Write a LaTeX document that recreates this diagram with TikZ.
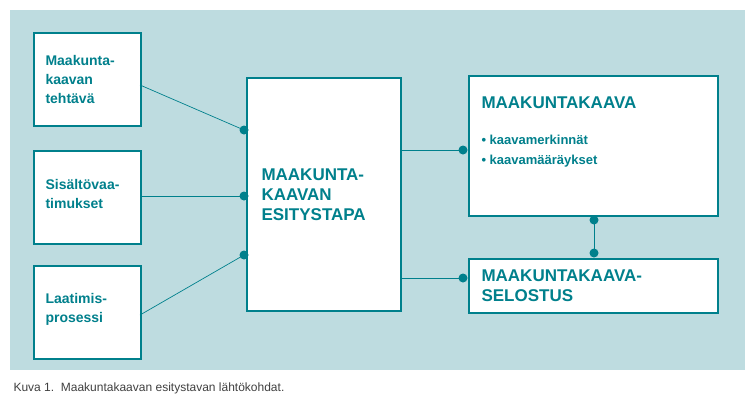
\documentclass[tikz,border=0pt]{standalone}
\usepackage{fontspec}
\setmainfont{Liberation Sans}
\definecolor{bg}{HTML}{BEDCE0}
\definecolor{teal}{HTML}{00808C}
\begin{document}
\begin{tikzpicture}[x=1pt,y=-1pt,
  box/.style={draw=teal,line width=1.8pt,fill=white,anchor=north west,inner sep=0},
  lab/.style={anchor=north west,align=left,text=teal,font=\bfseries\fontsize{14}{19}\selectfont},
  big/.style={anchor=north west,align=left,text=teal,font=\bfseries\fontsize{17}{20}\selectfont},
  con/.style={draw=teal,line width=0.7pt},
  dot/.style={circle,fill=teal,inner sep=0,minimum size=9pt}]
\useasboundingbox (0,0) rectangle (755,400);
\fill[bg] (10,10) rectangle (745,370);
\node[box,minimum width=107,minimum height=93] (b1) at (33,32) {};
\node[box,minimum width=107,minimum height=93] (b2) at (33,150) {};
\node[box,minimum width=107,minimum height=93] (b3) at (33,265) {};
\node[box,minimum width=154,minimum height=233] (c) at (246,77) {};
\node[box,minimum width=249,minimum height=140] (r1) at (468,75) {};
\node[box,minimum width=249,minimum height=54] (r2) at (468,258) {};
\node[lab] at (42,52) {Maakunta-\\kaavan\\tehtävä};
\node[lab] at (42,176) {Sisältövaa-\\timukset};
\node[lab] at (42,290) {Laatimis-\\prosessi};
\node[big] at (258,165) {MAAKUNTA-\\KAAVAN\\ESITYSTAPA};
\node[big] at (478,93) {MAAKUNTAKAAVA};
\node[lab,font=\bfseries\fontsize{13}{20}\selectfont] at (478,132) {• kaavamerkinnät\\• kaavamääräykset};
\node[big] at (478,266) {MAAKUNTAKAAVA-\\SELOSTUS};
\node[anchor=west,text=black!75,font=\fontsize{12}{14}\selectfont] at (10,388) {Kuva 1.\ \ Maakuntakaavan esitystavan lähtökohdat.};
\node[dot] (d1) at (244,130) {};
\node[dot] (d2) at (244,196) {};
\node[dot] (d3) at (244,255) {};
\node[dot] (d4) at (463,150) {};
\node[dot] (d5) at (463,278) {};
\node[dot] (d6) at (594,220) {};
\node[dot] (d7) at (594,253) {};
\coordinate (s1) at (140,85);
\coordinate (s2) at (140,196);
\coordinate (s3) at (140,315);
\coordinate (e4) at (400,150);
\coordinate (e5) at (400,278);
\draw[con] (s1) -- (d1.center);
\draw[con] (s2) -- (d2.center);
\draw[con] (s3) -- (d3.center);
\draw[con] (e4) -- (d4.center);
\draw[con] (e5) -- (d5.center);
\draw[con] (d6.center) -- (d7.center);
\end{tikzpicture}
\end{document}
